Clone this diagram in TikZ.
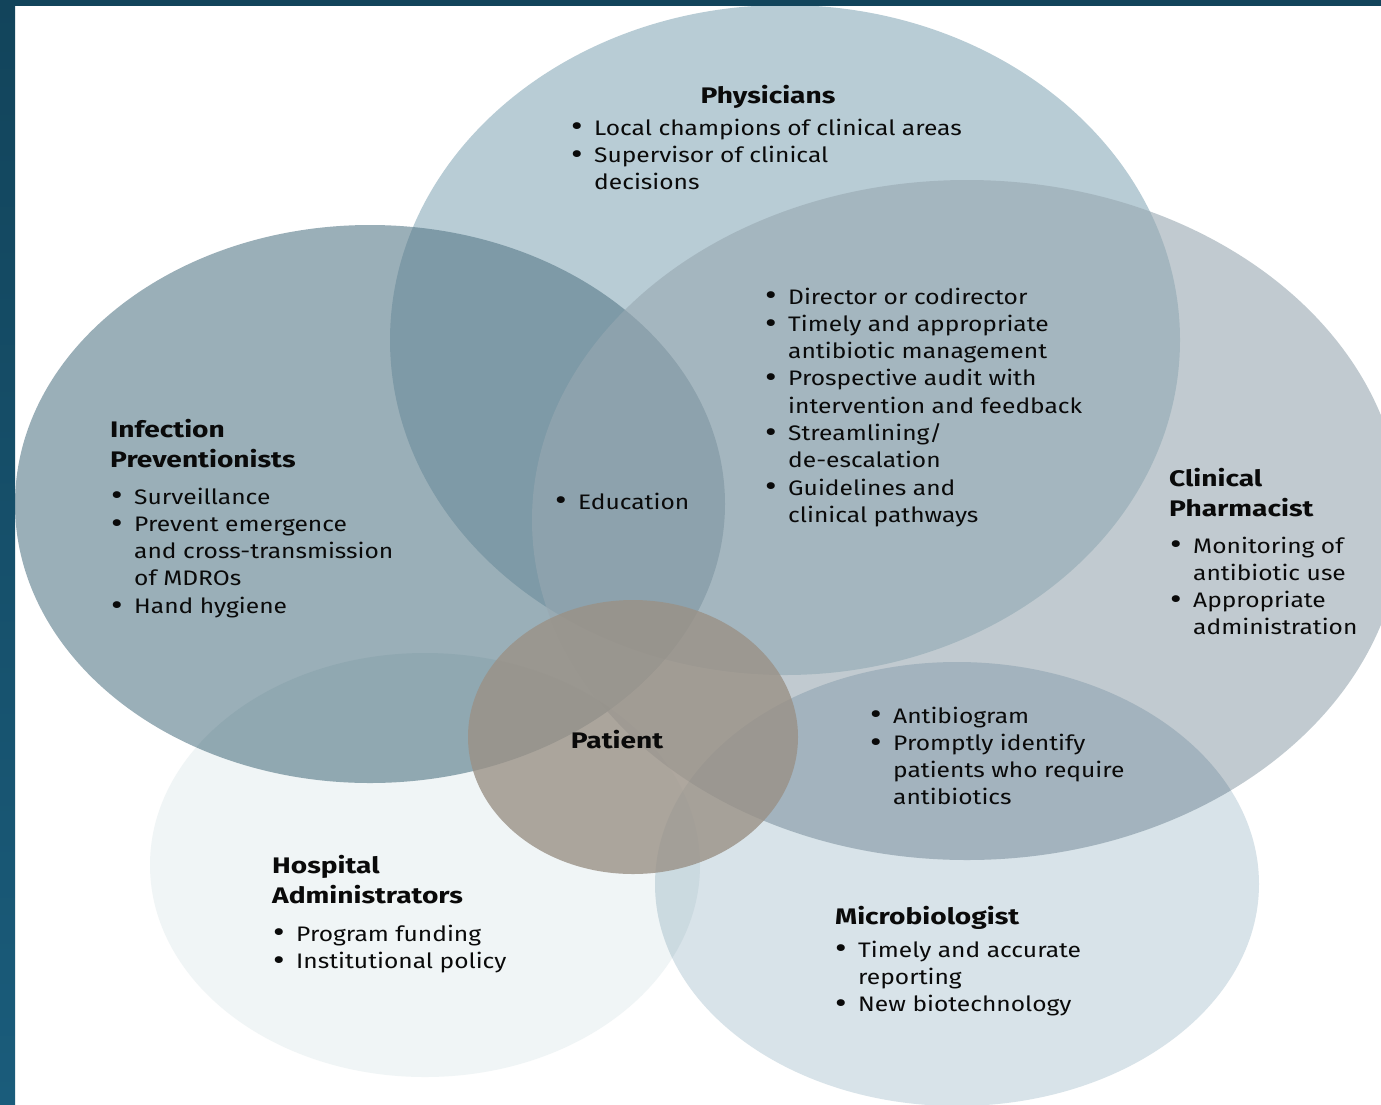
\documentclass[tikz,border=0pt]{standalone}
\usepackage{fontspec}
\setmainfont{Fira Sans}[FakeStretch=1.17]
\newfontfamily\tfont{Fira Sans}[FakeStretch=1.25]
\definecolor{physc}{HTML}{B8CCD5}
\definecolor{ipc}{HTML}{587A89}
\definecolor{pharmc}{HTML}{98A8B1}
\definecolor{hac}{HTML}{F0F5F6}
\definecolor{microc}{HTML}{D8E3E9}
\definecolor{patc}{HTML}{9A9186}
\definecolor{bordtop}{HTML}{12445B}
\definecolor{bordbot}{HTML}{1A5C7B}
\definecolor{txt}{HTML}{0A0A0A}
\newcommand{\bu}{\makebox[23pt][l]{\smash{\raisebox{-0.09em}{\scalebox{1.45}{\textbullet}}}}}
\begin{document}
\begin{tikzpicture}[x=1pt,y=-1pt,
  lst/.style={anchor=base west, inner sep=0pt, text=txt, font=\fontsize{21}{27.3}\selectfont},
  ttl/.style={anchor=base west, inner sep=0pt, text=txt, font=\tfont\fontsize{22.5}{30}\selectfont\bfseries}]
\useasboundingbox (0,0) rectangle (1381,1104);
\fill[white] (0,0) rectangle (1381,1104);
% circles
\fill[physc] (785,340) ellipse [x radius=395pt, y radius=335pt];
\fill[ipc, fill opacity=0.6] (370,504) ellipse [x radius=355pt, y radius=279pt];
\fill[pharmc, fill opacity=0.6] (967,520) ellipse [x radius=435pt, y radius=340pt];
\fill[hac, blend mode=multiply] (425,865) ellipse [x radius=275pt, y radius=212pt];
\fill[microc, blend mode=multiply] (957,884) ellipse [x radius=302pt, y radius=222pt];
\fill[patc, fill opacity=0.8] (633,737) ellipse [x radius=165pt, y radius=137pt];
% border
\fill[bordtop] (0,0) rectangle (1381,6);
\shade[top color=bordtop, bottom color=bordbot] (0,0) rectangle (15,1104);
% texts
\node[ttl, anchor=base] (phyT) at (768,103) {Physicians};
\node[lst] (phyL) at (571,135) {\begin{tabular}[t]{@{}l@{}l@{}}
\bu & Local champions of clinical areas\\
\bu & Supervisor of clinical\\
 & decisions\end{tabular}};
\node[lst] (shareL) at (765,304) {\begin{tabular}[t]{@{}l@{}l@{}}
\bu & Director or codirector\\
\bu & Timely and appropriate\\
 & antibiotic management\\
\bu & Prospective audit with\\
 & intervention and feedback\\
\bu & Streamlining/\\
 & de-escalation\\
\bu & Guidelines and\\
 & clinical pathways\end{tabular}};
\node[ttl] (ipT) at (110,437) {\begin{tabular}[t]{@{}l@{}}Infection\\ Preventionists\end{tabular}};
\node[lst] (ipL) at (111,504) {\begin{tabular}[t]{@{}l@{}l@{}}
\bu & Surveillance\\
\bu & Prevent emergence\\
 & and cross-transmission\\
 & of MDROs\\
\bu & Hand hygiene\end{tabular}};
\node[lst] (edu) at (555,509) {\bu Education};
\node[ttl] (phT) at (1169,486) {\begin{tabular}[t]{@{}l@{}}Clinical\\ Pharmacist\end{tabular}};
\node[lst] (phL) at (1170,553) {\begin{tabular}[t]{@{}l@{}l@{}}
\bu & Monitoring of\\
 & antibiotic use\\
\bu & Appropriate\\
 & administration\end{tabular}};
\node[ttl, anchor=base] (pat) at (617,748) {Patient};
\node[lst] (mpL) at (870,723) {\begin{tabular}[t]{@{}l@{}l@{}}
\bu & Antibiogram\\
\bu & Promptly identify\\
 & patients who require\\
 & antibiotics\end{tabular}};
\node[ttl] (haT) at (272,873) {\begin{tabular}[t]{@{}l@{}}Hospital\\ Administrators\end{tabular}};
\node[lst] (haL) at (273,941) {\begin{tabular}[t]{@{}l@{}l@{}}
\bu & Program funding\\
\bu & Institutional policy\end{tabular}};
\node[ttl] (miT) at (835,924) {Microbiologist};
\node[lst] (miL) at (835,957) {\begin{tabular}[t]{@{}l@{}l@{}}
\bu & Timely and accurate\\
 & reporting\\
\bu & New biotechnology\end{tabular}};
\end{tikzpicture}
\end{document}
